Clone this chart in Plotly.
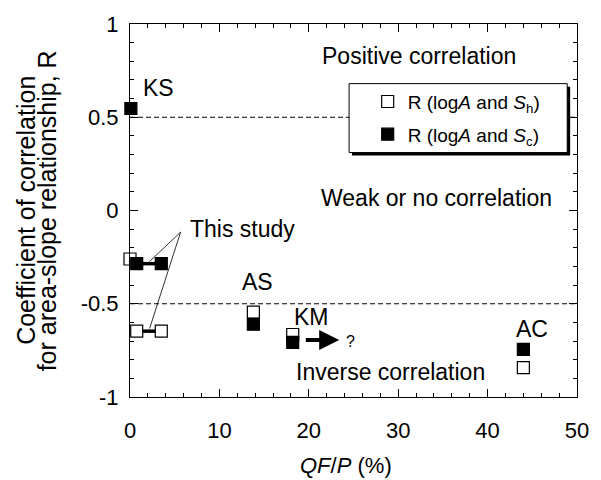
import plotly.graph_objects as go

# ---- data ----
open_x = [0, 0.75, 3.5, 13.8, 18.2, 44.0]
open_y = [-0.26, -0.647, -0.647, -0.545, -0.665, -0.843]
filled_x = [0.1, 0.75, 3.5, 13.8, 18.2, 44.0]
filled_y = [0.547, -0.285, -0.285, -0.61, -0.707, -0.745]
study_open_x = [0.75, 3.5]
study_open_y = [-0.647, -0.647]
study_filled_x = [0.75, 3.5]
study_filled_y = [-0.285, -0.285]
x_ticks = [0, 10, 20, 30, 40, 50]
y_ticks = [-1, -0.5, 0, 0.5, 1]
y_ticktext = ["-1", "-0.5", "0", "0.5", "1"]

FONT = "Liberation Sans, Arial, Helvetica, sans-serif"

fig = go.Figure()

# connecting bars (This study)
fig.add_trace(go.Scatter(x=study_open_x, y=study_open_y, mode="lines",
                         line=dict(color="black", width=3.5), showlegend=False,
                         hoverinfo="skip"))
fig.add_trace(go.Scatter(x=study_filled_x, y=study_filled_y, mode="lines",
                         line=dict(color="black", width=3.5), showlegend=False,
                         hoverinfo="skip"))

fig.add_trace(go.Scatter(
    x=open_x, y=open_y, mode="markers", cliponaxis=False,
    name="R (log<i>A</i> and <i>S</i><sub>h</sub>)", legendgroup="h",
    marker=dict(symbol="square", size=12, color="white",
                line=dict(color="black", width=1.2))))
fig.add_trace(go.Scatter(
    x=filled_x, y=filled_y, mode="markers", cliponaxis=False,
    name="R (log<i>A</i> and <i>S</i><sub>c</sub>)", legendgroup="c",
    marker=dict(symbol="square", size=12, color="black",
                line=dict(color="black", width=1.2))))

shapes = []
for yv in (0.5, -0.5):
    shapes.append(dict(type="line", xref="paper", yref="y", x0=0, x1=1, y0=yv, y1=yv,
                       line=dict(color="black", width=1, dash="5px,3px"), layer="below"))
# legend box with shadow (paper coords)
def px2paper_x(px):
    return (px - 130) / 457.0
def px2paper_y(py):
    return (396.7 - py) / 373.4
shapes.append(dict(type="rect", xref="paper", yref="paper",
                   x0=px2paper_x(357), x1=px2paper_x(580), y0=px2paper_y(155), y1=px2paper_y(86),
                   fillcolor="black", line=dict(width=0), layer="below"))
shapes.append(dict(type="rect", xref="paper", yref="paper",
                   x0=px2paper_x(354), x1=px2paper_x(577), y0=px2paper_y(152), y1=px2paper_y(83),
                   fillcolor="white", line=dict(color="black", width=1), layer="below"))
# pointer lines for "This study"
for yend in (-0.273, -0.633):
    shapes.append(dict(type="line", xref="x", yref="y", x0=5.66, y0=-0.116, x1=2.19, y1=yend,
                       line=dict(color="black", width=0.8)))

def ann(text, x, y, size=23):
    return dict(text=text, x=x, y=y, xref="x", yref="y", showarrow=False,
                font=dict(family=FONT, size=size, color="black"),
                xanchor="center", yanchor="middle")

annotations = [
    ann("KS", 3.15, 0.655),
    ann("This study", 12.58, -0.10),
    ann("AS", 14.28, -0.383),
    ann("KM", 20.28, -0.57),
    ann("AC", 44.98, -0.633),
    ann("Positive correlation", 32.37, 0.831),
    ann("Weak or no correlation", 34.25, 0.065),
    ann("Inverse correlation", 29.17, -0.865),
    ann("?", 24.7, -0.70, size=16),
    dict(text="", x=23.4, y=-0.695, ax=19.5, ay=-0.695, xref="x", yref="y",
         axref="x", ayref="y", showarrow=True, arrowhead=2, arrowsize=1.0,
         arrowwidth=4, arrowcolor="black"),
    dict(text="Coefficient of correlation", xref="paper", yref="paper",
         x=px2paper_x(23), y=0.5, textangle=-90, showarrow=False,
         xanchor="center", yanchor="middle",
         font=dict(family=FONT, size=25, color="black")),
    dict(text="for area-slope relationship, R", xref="paper", yref="paper",
         x=px2paper_x(45), y=0.5, textangle=-90, showarrow=False,
         xanchor="center", yanchor="middle",
         font=dict(family=FONT, size=25, color="black")),
    dict(text="<i>QF</i>/<i>P</i> (%)", xref="paper", yref="paper",
         x=px2paper_x(351), y=px2paper_y(465), showarrow=False, borderpad=0,
         xanchor="center", yanchor="middle",
         font=dict(family=FONT, size=22, color="black")),
]

axis_common = dict(showline=True, linecolor="black", linewidth=1, mirror="ticks",
                   ticks="inside", tickcolor="black", tickwidth=1, showgrid=False,
                   zeroline=False, tickfont=dict(family=FONT, size=22, color="black"))

fig.update_layout(
    width=601, height=480,
    margin=dict(l=130, r=14, t=23, b=83, pad=0),
    paper_bgcolor="white", plot_bgcolor="white",
    font=dict(family=FONT, color="black"),
    shapes=shapes, annotations=annotations,
    showlegend=True,
    legend=dict(x=px2paper_x(373), y=px2paper_y(82), xanchor="left", yanchor="top",
                bgcolor="rgba(0,0,0,0)", borderwidth=0, tracegroupgap=5,
                font=dict(family=FONT, size=19, color="black")),
    xaxis=dict(range=[0, 50], tickvals=x_ticks, ticklen=8, ticklabelstandoff=14,
               minor=dict(dtick=2, ticklen=4, ticks="inside", tickcolor="black"),
               **axis_common),
    yaxis=dict(range=[-1, 1], tickvals=y_ticks, ticktext=y_ticktext, ticklen=8,
               ticklabelstandoff=6,
               minor=dict(dtick=0.1, ticklen=4, ticks="inside", tickcolor="black"),
               **axis_common),
)

fig.write_html("out.html")
